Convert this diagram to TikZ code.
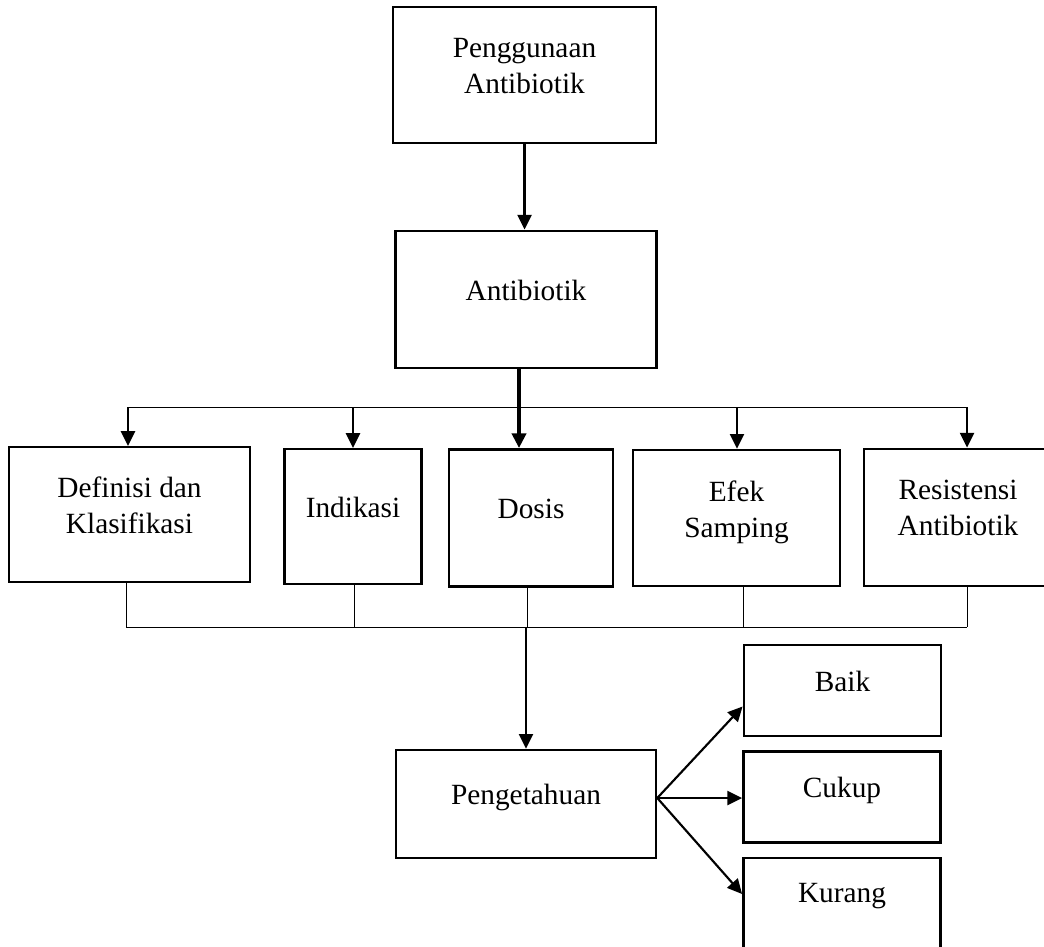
\documentclass[tikz,border=0pt]{standalone}
\usepackage{fontspec}
\setmainfont{Liberation Serif}
\usetikzlibrary{arrows.meta, positioning}

\begin{document}
\begin{tikzpicture}[x=0.75pt, y=-0.75pt,
    box/.style={draw, line width=1.9pt, inner sep=0pt, align=center,
        font=\fontsize{22}{27}\selectfont, text depth=14pt},
    link/.style={line width=1.6pt, -{Triangle[length=11pt, width=10.5pt]}},
    bus/.style={line width=0.7pt}]
    \useasboundingbox (0,0) rectangle (1044,946);

    \node[box, minimum width=197pt, minimum height=102pt] (pakai) at (524.5,75) {Penggunaan\\Antibiotik};
    \node[box, minimum width=196pt, minimum height=103pt] (anti) at (526,299.5) {Antibiotik};

    \node[box, minimum width=181pt, minimum height=101pt] (def) at (129.5,514.5) {Definisi dan\\Klasifikasi};
    \node[box, minimum width=103pt, minimum height=101pt] (indi) at (353,516.5) {Indikasi};
    \node[box, minimum width=123pt, minimum height=103pt] (dosis) at (531,518) {Dosis};
    \node[box, minimum width=155pt, minimum height=102pt] (efek) at (736.5,518) {Efek\\Samping};
    \node[box, minimum width=141pt, minimum height=103pt] (resis) at (958,517.5) {Resistensi\\Antibiotik};

    \node[box, minimum width=195pt, minimum height=81pt] (tahu) at (526,804) {Pengetahuan};
    \node[box, minimum width=148pt, minimum height=68pt] (baik) at (842.5,690.5) {Baik};
    \node[box, minimum width=148pt, minimum height=68pt] (cukup) at (842,797) {Cukup};
    \node[box, minimum width=148pt, minimum height=72pt, text depth=20pt] (kurang) at (842,906) {Kurang};

    \draw[link] (pakai.south) -- (pakai.south |- anti.north);

    \coordinate (split) at (519,407);
    \draw[line width=3pt] (anti.south -| split) -- (split);
    \draw[bus] (128,407) -- (967,407);
    \foreach \n/\x in {def/128, indi/353, efek/737, resis/967}
        \draw[link] (\x,407) -- (\n.north -| \x,0);
    \draw[link, line width=3pt] (split) -- (split |- dosis.north);

    \foreach \n/\x in {def/126, indi/354, dosis/527, efek/743, resis/967}
        \draw[bus] (\n.south -| \x,0) -- (\x,627);
    \draw[bus] (126,627) -- (967,627);
    \draw[link] (tahu.north |- 0,627) -- (tahu.north);

    \coordinate (fan) at ([yshift=4.5pt]tahu.east);
    \draw[link] (fan) -- ([yshift=-12pt]baik.west);
    \draw[link] (fan) -- (fan -| cukup.west);
    \draw[link] (fan) -- ([yshift=9pt]kurang.west);
\end{tikzpicture}
\end{document}
